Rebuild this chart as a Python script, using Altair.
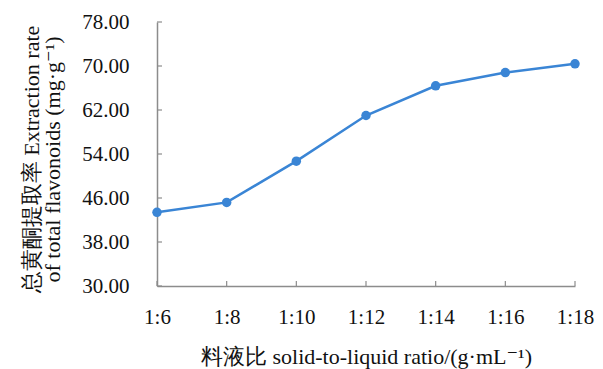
import altair as alt
import pandas as pd

ratios = ["1:6", "1:8", "1:10", "1:12", "1:14", "1:16", "1:18"]
rates = [43.4, 45.2, 52.7, 61.0, 66.4, 68.8, 70.4]
y_ticks = [30, 38, 46, 54, 62, 70, 78]

df = pd.DataFrame({"ratio": ratios, "rate": rates})
yt = pd.DataFrame({"rate": y_ticks})
xt = pd.DataFrame({"ratio": ratios})

FONT = "'Liberation Serif', 'Times New Roman', 'DejaVu Serif', serif"
BLUE = "#3a85d5"
AX = "#8c8c8c"

W = 418
H = 264

xscale = alt.Scale(type="point", domain=ratios, padding=0)
yscale = alt.Scale(domain=[30, 78], nice=False, zero=False)

x_axis = alt.Axis(
    title="料液比 solid-to-liquid ratio/(g·mL⁻¹)",
    labelAngle=0, ticks=False, labelPadding=20,
    titleX=W / 2, titleY=70, titleBaseline="middle", titleAnchor="middle",
)
y_axis = alt.Axis(
    title=["总黄酮提取率  Extraction rate", "of total flavonoids (mg·g⁻¹)"],
    values=y_ticks, format=".2f", ticks=False, labelPadding=28,
    titleAngle=-90, titleX=-119, titleY=137, titleBaseline="alphabetic",
    titleAlign="center", titleLineHeight=21,
)

line = alt.Chart(df).mark_line(
    color=BLUE, strokeWidth=2.5,
    point=alt.OverlayMarkDef(filled=True, size=90, color=BLUE, opacity=1),
).encode(
    x=alt.X("ratio:O", scale=xscale, sort=ratios, axis=x_axis),
    y=alt.Y("rate:Q", scale=yscale, axis=y_axis),
)

ytick_layer = alt.Chart(yt).mark_rule(color=AX, strokeWidth=1.2).encode(
    y=alt.Y("rate:Q", scale=yscale, axis=y_axis),
    x=alt.value(0), x2=alt.value(5),
)
xtick_layer = alt.Chart(xt).mark_rule(color=AX, strokeWidth=1.2).encode(
    x=alt.X("ratio:O", scale=xscale, sort=ratios, axis=x_axis),
    y=alt.value(H), y2=alt.value(H - 5),
)

chart = alt.layer(line, ytick_layer, xtick_layer).properties(
    width=W, height=H,
    background="white",
    autosize=alt.AutoSizeParams(type="none"),
    padding={"left": 149, "top": 14, "right": 20, "bottom": 84},
).configure_view(stroke=None).configure_axis(
    labelFont=FONT, labelFontSize=21, labelColor="#111",
    titleFont=FONT, titleFontSize=22, titleFontWeight="normal", titleColor="#111",
    domainColor=AX, domainWidth=1.5, grid=False,
)

chart.save("out.html", embed_options={"renderer": "svg", "actions": False})
